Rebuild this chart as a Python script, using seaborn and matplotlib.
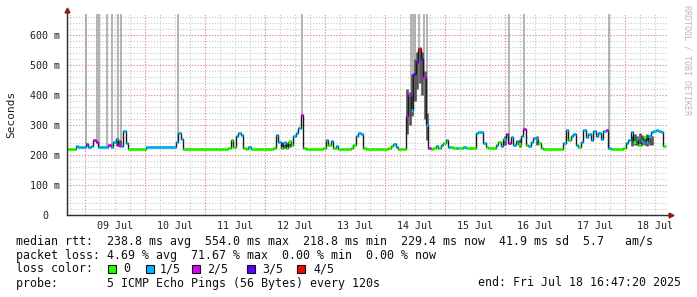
import numpy as np
import pandas as pd
import matplotlib
matplotlib.use("Agg")
import matplotlib.pyplot as plt
import seaborn as sns
from matplotlib.patches import Rectangle
from matplotlib.lines import Line2D

# ---------------- data (hourly samples, start 2025-07-08 16:48) ----------------
median_ms = [
    220, 220, 220, 220, 231, 228, 228, 228, 237, 228,
    230, 250, 245, 228, 228, 228, 228, 233, 228, 245,
    253, 235, 230, 280, 240, 220, 220, 220, 220, 220,
    220, 221, 228, 228, 228, 228, 228, 228, 228, 228,
    228, 228, 228, 228, 245, 273, 255, 220, 220, 220,
    220, 220, 220, 220, 220, 220, 220, 220, 220, 220,
    220, 220, 220, 220, 220, 225, 250, 228, 262, 274,
    268, 225, 220, 228, 220, 220, 220, 220, 220, 220,
    220, 220, 220, 222, 268, 245, 225, 240, 225, 245,
    235, 265, 275, 290, 333, 225, 220, 220, 220, 220,
    220, 220, 220, 222, 250, 235, 248, 225, 230, 220,
    220, 220, 220, 220, 222, 235, 265, 272, 270, 225,
    220, 220, 220, 220, 220, 220, 220, 220, 220, 222,
    230, 238, 226, 220, 220, 220, 330, 400, 350, 470,
    510, 554, 520, 460, 300, 225, 220, 222, 230, 225,
    232, 240, 250, 228, 228, 222, 222, 225, 225, 228,
    222, 222, 222, 225, 275, 278, 276, 240, 228, 224,
    222, 222, 235, 245, 230, 255, 270, 240, 260, 235,
    248, 238, 262, 287, 235, 230, 245, 258, 252, 240,
    222, 220, 220, 220, 220, 220, 220, 220, 220, 240,
    283, 250, 265, 270, 235, 228, 245, 283, 260, 270,
    250, 280, 265, 272, 255, 280, 285, 225, 220, 220,
    220, 220, 220, 222, 240, 250, 278, 245, 255, 235,
    248, 260, 245, 265, 278, 280, 282, 280, 278, 229,
]
loss_level = [
    0, 0, 0, 0, 1, 1, 1, 1, 2, 1,
    1, 2, 2, 1, 1, 1, 1, 2, 1, 1,
    1, 2, 1, 1, 1, 0, 0, 0, 0, 0,
    0, 0, 1, 1, 1, 1, 1, 1, 1, 1,
    1, 1, 1, 1, 1, 1, 1, 0, 0, 0,
    0, 0, 0, 0, 0, 0, 0, 0, 0, 0,
    0, 0, 0, 0, 0, 0, 0, 0, 1, 1,
    1, 0, 0, 1, 0, 0, 0, 0, 0, 0,
    0, 0, 0, 0, 1, 1, 0, 1, 0, 0,
    0, 1, 1, 1, 2, 0, 0, 0, 0, 0,
    0, 0, 0, 0, 1, 0, 1, 0, 1, 0,
    0, 0, 0, 0, 0, 0, 1, 1, 1, 0,
    0, 0, 0, 0, 0, 0, 0, 0, 0, 0,
    0, 1, 1, 0, 0, 0, 2, 2, 1, 3,
    3, 4, 3, 2, 1, 2, 0, 0, 1, 0,
    1, 0, 1, 1, 0, 0, 1, 0, 0, 1,
    0, 0, 0, 0, 1, 1, 1, 1, 0, 0,
    0, 0, 1, 0, 1, 1, 2, 2, 1, 1,
    1, 0, 1, 2, 0, 1, 1, 1, 1, 0,
    0, 0, 0, 0, 0, 0, 0, 0, 0, 1,
    1, 0, 1, 1, 1, 0, 1, 1, 1, 1,
    1, 1, 1, 1, 1, 1, 2, 1, 0, 0,
    0, 0, 0, 0, 1, 1, 1, 0, 1, 0,
    1, 0, 1, 1, 1, 1, 1, 1, 1, 0,
]
smoke_hours = [20, 21, 86, 87, 88, 89, 136, 137, 138, 139, 140, 141, 142, 143, 144,
               175, 181, 188, 226, 227, 228, 229, 230, 231, 232, 233, 234]
smoke_lo = [230, 228, 222, 225, 222, 228, 270, 300, 330, 380, 420, 440, 400, 320, 250,
            235, 228, 235, 230, 232, 235, 230, 232, 235, 230, 232, 235]
smoke_hi = [258, 250, 245, 248, 240, 250, 420, 410, 470, 520, 545, 560, 545, 480, 340,
            265, 255, 265, 262, 270, 265, 272, 268, 262, 270, 266, 262]
timeout_hours = [7.6, 12.0, 12.8, 15.8, 18.0, 20.4, 21.6, 44.4, 94.0,
                 137.6, 138.4, 139.2, 140.9, 142.9, 144.1, 176.9, 182.9, 216.7]

day_labels = ["09 Jul", "10 Jul", "11 Jul", "12 Jul", "13 Jul",
              "14 Jul", "15 Jul", "16 Jul", "17 Jul", "18 Jul"]
y_ticks_ms = [0, 100, 200, 300, 400, 500, 600]
loss_labels = ["0", "1/5", "2/5", "3/5", "4/5"]
loss_colors = ["#26ff00", "#00b8ff", "#dd00ff", "#5e00ff", "#ff0000"]

line_rtt = "median rtt:  238.8 ms avg  554.0 ms max  218.8 ms min  229.4 ms now  41.9 ms sd  5.7   am/s"
line_loss = "packet loss: 4.69 % avg  71.67 % max  0.00 % min  0.00 % now"
line_probe = "probe:       5 ICMP Echo Pings (56 Bytes) every 120s"
line_end = "end: Fri Jul 18 16:47:20 2025"

# ---------------- figure ----------------
sns.set_style("white")
plt.rcParams['font.family'] = ['DejaVu Sans Mono', 'DejaVu Sans']

W, H = 697, 297
fig = plt.figure(figsize=(W / 100, H / 100), dpi=100)
fig.patch.set_facecolor("white")

def fx(px):
    return px / W

def fy(py):
    return 1 - py / H

ax = fig.add_axes([fx(67), fy(215), 600 / W, 201 / H])
ax.set_xlim(0, 240)
ax.set_ylim(0, 670)

hours = np.arange(len(median_ms))
df = pd.DataFrame({"hour": hours, "median": median_ms, "loss": loss_level})

# grid
first_midnight = 7.2
six_h = np.arange(1.2, 240, 6)
midnights = np.arange(first_midnight, 240, 24)
noons = midnights + 12
for xv in six_h:
    ax.axvline(xv, color="#c8c8c8", lw=0.8, ls=(0, (1, 1.6)), zorder=0)
for xv in midnights:
    ax.axvline(xv, color="#e89090", lw=0.8, ls=(0, (1, 1.6)), zorder=0.5)
for yv in np.arange(20, 670, 20):
    ax.axhline(yv, color="#c8c8c8", lw=0.8, ls=(0, (1, 1.6)), zorder=0)
for yv in y_ticks_ms[1:]:
    ax.axhline(yv, color="#e89090", lw=0.8, ls=(0, (1, 1.6)), zorder=0.5)

# timeouts (vertical lines to the top)
med_arr = np.array(median_ms)
t_idx = np.clip(np.round(timeout_hours).astype(int), 0, len(median_ms) - 1)
ax.vlines(timeout_hours, med_arr[t_idx], 670, colors="#a0a0a0", lw=1.1, zorder=1)

# smoke
ax.vlines(smoke_hours, smoke_lo, smoke_hi, colors="#555555", lw=1.9, zorder=1.5)

# median black line
sns.lineplot(data=df, x="hour", y="median", estimator=None, color="#1a1a1a",
             lw=1.0, drawstyle="steps-mid", ax=ax, zorder=2, legend=False)

# median colored by loss
cols = [loss_colors[l] for l in loss_level]
ax.hlines(df["median"], df["hour"] - 0.5, df["hour"] + 0.5, colors=cols,
          lw=2.1, zorder=3)

# axes styling
for s in ["top", "right"]:
    ax.spines[s].set_visible(False)
for s in ["left", "bottom"]:
    ax.spines[s].set_color("#303030")
    ax.spines[s].set_linewidth(0.9)
    ax.spines[s].set_zorder(4)

ax.set_xticks(noons)
ax.set_xticklabels(day_labels)
ax.set_xticks(six_h, minor=True)
ax.tick_params(axis="x", which="major", length=0, pad=4, labelsize=7.2, colors="#202020")
ax.tick_params(axis="x", which="minor", length=2, width=0.7, color="#404040")
ax.set_yticks(y_ticks_ms)
ax.set_yticklabels([("0" if v == 0 else f"{v} m") for v in y_ticks_ms])
ax.set_yticks(np.arange(0, 670, 20), minor=True)
ax.tick_params(axis="y", which="major", length=2, width=0.7, pad=13.8, labelsize=7.2,
               colors="#202020")
ax.tick_params(axis="y", which="minor", length=1.5, width=0.6, color="#404040")
for lab in ax.get_yticklabels():
    lab.set_horizontalalignment("center")
ax.set_xlabel("")
ax.set_ylabel("")

# axis arrows
fig.add_artist(Line2D([fx(67), fx(67)], [fy(215), fy(10)], color="#303030", lw=0.9))
fig.add_artist(Line2D([fx(67), fx(672)], [fy(215), fy(215)], color="#303030", lw=0.9))
fig.add_artist(Line2D([fx(67)], [fy(10)], marker="^", color="#8b1a1a", markersize=3.5))
fig.add_artist(Line2D([fx(671)], [fy(215)], marker=">", color="#8b1a1a", markersize=3.5))

# labels
fig.text(fx(11), fy(114), "Seconds", rotation=90, ha="center", va="center",
         fontsize=8, color="#202020")
fig.text(fx(687), fy(60), "RRDTOOL / TOBI OETIKER", rotation=270, ha="center",
         va="center", fontsize=6, color="#b8b8b8")

fs = 8.4
fig.text(fx(16), fy(241), line_rtt, fontsize=fs, va="center", color="#101010")
fig.text(fx(16), fy(255), line_loss, fontsize=fs, va="center", color="#101010")
fig.text(fx(16), fy(269), "loss color:", fontsize=fs, va="center", color="#101010")
fig.text(fx(16), fy(283), line_probe, fontsize=fs, va="center", color="#101010")
fig.text(fx(478), fy(283), line_end, fontsize=fs, va="center", color="#101010")

box_x = [108, 146, 192, 247, 297]
lab_x = [123, 160, 207, 262, 313]
for bx, lx, lab, c in zip(box_x, lab_x, loss_labels, loss_colors):
    fig.add_artist(Rectangle((fx(bx), fy(272.5)), 8 / W, 8 / H, facecolor=c,
                             edgecolor="#101010", lw=0.8, transform=fig.transFigure))
    fig.text(fx(lx), fy(269), lab, fontsize=fs, va="center", color="#101010")

fig.savefig("out.png", dpi=100, facecolor="white")
